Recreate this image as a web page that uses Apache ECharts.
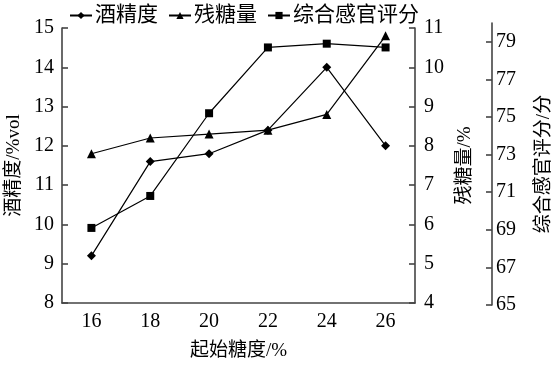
<!DOCTYPE html>
<html><head><meta charset="utf-8">
<script src="https://cdn.jsdelivr.net/npm/echarts@6/dist/echarts.min.js"></script>
<style>html,body{margin:0;padding:0;background:#fff}#c{width:554px;height:367px}</style>
</head><body><div id="c"></div>
<script>
const categories = ['16','18','20','22','24','26'];
const alcohol = [9.2, 11.6, 11.8, 12.4, 14.0, 12.0];
const residualSugar = [7.8, 8.2, 8.3, 8.4, 8.8, 10.8];
const sensoryScore = [69.1, 70.8, 75.2, 78.7, 78.9, 78.7];
const scoreTicks = [65, 67, 69, 71, 73, 75, 77, 79];

const FONT = '"Liberation Serif", "Noto Sans CJK SC", serif';
const axisLineStyle = {color: '#444', width: 1.6};
const labelStyle = {color: '#000', fontFamily: FONT, fontSize: 20};
const nameStyle = {color: '#000', fontFamily: FONT, fontSize: 19};

const chart = echarts.init(document.getElementById('c'), null, {renderer: 'canvas'});
chart.setOption({
  animation: false,
  backgroundColor: '#fff',
  legend: {
    top: 0, left: 64, itemGap: 10, itemWidth: 22, itemHeight: 9,
    textStyle: {color: '#000', fontFamily: FONT, fontSize: 21, padding: [0,0,0,-2]},
    data: ['酒精度', '残糖量', '综合感官评分']
  },
  grid: [
    {left: 62, right: 139, top: 28, bottom: 64, outerBoundsMode: 'none', containLabel: false},
    {left: 62, right: 139, top: 23, bottom: 62, outerBoundsMode: 'none', containLabel: false}
  ],
  xAxis: [
    {
      type: 'category', gridIndex: 0, data: categories, boundaryGap: true,
      name: '起始糖度/%', nameLocation: 'middle', nameGap: 39, nameTextStyle: nameStyle,
      axisLine: {lineStyle: axisLineStyle},
      axisTick: {inside: true, alignWithLabel: true, length: 6, lineStyle: axisLineStyle},
      axisLabel: Object.assign({margin: 9}, labelStyle),
      splitLine: {show: false}
    },
    {
      type: 'category', gridIndex: 1, data: categories, boundaryGap: true, show: false
    }
  ],
  yAxis: [
    {
      type: 'value', gridIndex: 0, position: 'left', min: 8, max: 15, interval: 1,
      name: '酒精度/%vol', nameLocation: 'middle', nameGap: 38, nameTextStyle: nameStyle,
      axisLine: {show: true, lineStyle: axisLineStyle},
      axisTick: {show: true, inside: true, length: 6, lineStyle: axisLineStyle},
      axisLabel: Object.assign({margin: 8}, labelStyle),
      splitLine: {show: false}
    },
    {
      type: 'value', gridIndex: 0, position: 'right', min: 4, max: 11, interval: 1,
      name: '残糖量/%', nameLocation: 'middle', nameGap: 41, nameRotate: 90, nameTextStyle: nameStyle,
      axisLine: {show: true, lineStyle: axisLineStyle},
      axisTick: {show: true, inside: true, length: 6, lineStyle: axisLineStyle},
      axisLabel: Object.assign({margin: 9}, labelStyle),
      splitLine: {show: false}
    },
    {
      type: 'value', gridIndex: 1, position: 'right', offset: 77, min: 65, max: 80,
      name: '综合感官评分/分', nameLocation: 'middle', nameGap: 43, nameRotate: 90,
      nameTextStyle: nameStyle,
      axisLine: {show: true, lineStyle: axisLineStyle},
      axisTick: {show: true, inside: true, length: 6, lineStyle: axisLineStyle, customValues: scoreTicks},
      axisLabel: Object.assign({margin: 4, customValues: scoreTicks}, labelStyle),
      splitLine: {show: false}
    }
  ],
  series: [
    {
      name: '酒精度', type: 'line', xAxisIndex: 0, yAxisIndex: 0, data: alcohol,
      symbol: 'diamond', symbolSize: 9,
      lineStyle: {color: '#000', width: 1.2}, itemStyle: {color: '#000'}
    },
    {
      name: '残糖量', type: 'line', xAxisIndex: 0, yAxisIndex: 1, data: residualSugar,
      symbol: 'triangle', symbolSize: 9,
      lineStyle: {color: '#000', width: 1.2}, itemStyle: {color: '#000'}
    },
    {
      name: '综合感官评分', type: 'line', xAxisIndex: 1, yAxisIndex: 2, data: sensoryScore,
      symbol: 'rect', symbolSize: 8,
      lineStyle: {color: '#000', width: 1.2}, itemStyle: {color: '#000'}
    }
  ]
});
</script></body></html>
